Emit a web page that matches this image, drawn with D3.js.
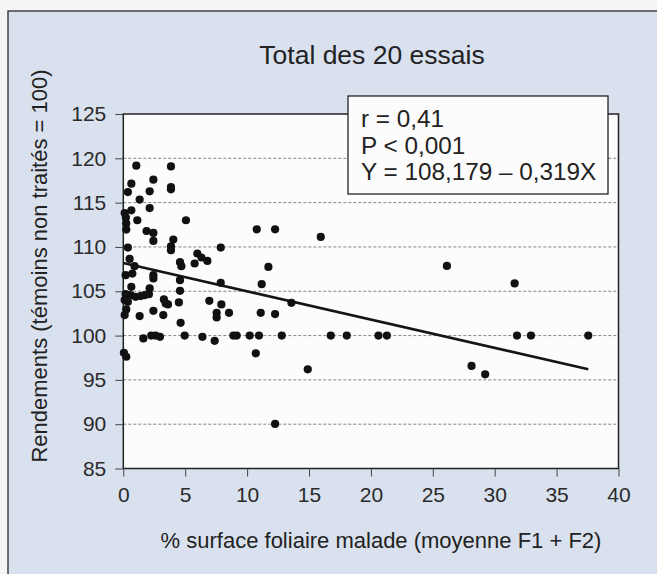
<!DOCTYPE html>
<html>
<head>
<meta charset="utf-8">
<script src="https://cdn.jsdelivr.net/npm/d3@7/dist/d3.min.js"></script>
<style>
  body { margin: 0; background: #f3f4f6; }
  svg { display: block; font-family: "Liberation Sans", Arial, sans-serif; }
</style>
</head>
<body>
<svg id="chart" width="657" height="574"></svg>
<script>
// % surface foliaire malade (moyenne F1 + F2)
var diseaseX = [1.05, 3.85, 0.65, 2.43, 0.37, 2.13, 3.85, 3.85, 1.32, 2.13, 0.65, 0.11, 0.21, 1.13, 5.06, 0.24, 0.24, 1.88, 2.43, 2.43,
  4.04, 3.85, 3.85, 0.37, 7.87, 4.58, 4.69, 5.98, 6.31, 6.79, 5.76, 0.51, 0.91, 0.19, 0.73, 2.43,
  2.43, 4.58, 4.58, 7.87, 0.65, 2.13, 0.19, 0.59, 0.99, 1.40, 1.72, 2.07, 0.11, 0.37, 0.24, 0.11, 3.28, 3.42, 3.61, 4.49,
  6.95, 7.92, 1.32, 2.43, 3.23, 7.54, 7.54, 8.54, 4.63, 1.62, 2.26, 2.61, 2.96, 4.96, 6.39, 7.38, 8.89, 9.16, 0.05, 0.24,
  10.78, 12.26, 15.95, 11.72, 11.18, 11.10, 12.26, 13.58, 10.21, 10.96, 12.80, 16.76, 18.05, 20.61, 21.29, 10.70, 14.90, 12.26,
  26.14, 31.61, 31.80, 32.93, 37.56, 28.13, 29.23];

// Rendements (témoins non traités = 100)
var yieldY = [119.17, 119.09, 117.14, 117.59, 116.19, 116.27, 116.76, 116.50, 115.34, 114.39, 114.13, 113.83, 113.31, 113.01, 113.01, 112.64, 111.96, 111.80, 111.58, 110.68,
  110.83, 110.08, 109.63, 109.93, 109.93, 108.28, 107.83, 109.26, 108.81, 108.42, 108.13, 108.65, 107.83, 106.81, 107.00, 106.81,
  106.44, 106.25, 105.05, 105.95, 105.50, 105.32, 104.67, 104.56, 104.37, 104.45, 104.56, 104.67, 104.00, 103.81, 102.95, 102.31, 104.08, 103.63, 103.51, 103.74,
  103.92, 103.51, 102.20, 102.79, 102.31, 102.57, 102.05, 102.57, 101.44, 99.68, 100, 100, 99.86, 100, 99.86, 99.41, 100, 100, 98.06, 97.61,
  111.99, 111.99, 111.13, 107.75, 105.80, 102.57, 102.42, 103.69, 100, 100, 100, 100, 100, 100, 100, 98.00, 96.19, 90.03,
  107.86, 105.88, 100, 100, 100, 96.57, 95.63];

var xTicks = [0, 5, 10, 15, 20, 25, 30, 35, 40];
var yTicks = [85, 90, 95, 100, 105, 110, 115, 120, 125];
var gridTicks = [90, 95, 100, 105, 110, 115, 120];

var fitIntercept = 108.179, fitSlope = -0.319;
var statsLines = ["r = 0,41", "P < 0,001", "Y = 108,179 \u2013 0,319X"];
var chartTitle = "Total des 20 essais";
var xTitle = "% surface foliaire malade (moyenne F1 + F2)";
var yTitle = "Rendements (témoins non traités = 100)";

var svg = d3.select("#chart");
var plotLeft = 123.3, plotRight = 618.5, plotTop = 114, plotBottom = 468.5;

var x = d3.scaleLinear().domain([0, 40]).range([plotLeft, plotRight]);
var y = d3.scaleLinear().domain([85, 125]).range([plotBottom, plotTop]);

// outer panel
svg.append("rect")
    .attr("x", 8).attr("y", 11).attr("width", 700).attr("height", 600)
    .attr("fill", "#d9e1ee").attr("stroke", "#2a2a2a").attr("stroke-width", 1.3);

// plot area
svg.append("rect")
    .attr("x", plotLeft).attr("y", plotTop).attr("width", plotRight - plotLeft).attr("height", plotBottom - plotTop)
    .attr("fill", "#fcfcfc");

svg.append("g").selectAll("line")
    .data(gridTicks)
    .enter().append("line")
    .attr("x1", plotLeft).attr("x2", plotRight)
    .attr("y1", function(d) { return y(d); }).attr("y2", function(d) { return y(d); })
    .attr("stroke", "#777").attr("stroke-width", 0.9).attr("stroke-dasharray", "3,2");

svg.append("rect")
    .attr("x", plotLeft).attr("y", plotTop).attr("width", plotRight - plotLeft).attr("height", plotBottom - plotTop)
    .attr("fill", "none").attr("stroke", "#222").attr("stroke-width", 1.5);

var xAxis = svg.append("g")
    .attr("transform", "translate(0," + plotBottom + ")")
    .call(d3.axisBottom(x).tickValues(xTicks).tickSize(8).tickPadding(11));
var yAxis = svg.append("g")
    .attr("transform", "translate(" + plotLeft + ",0)")
    .call(d3.axisLeft(y).tickValues(yTicks).tickSize(8).tickPadding(9));

[xAxis, yAxis].forEach(function(a) {
  a.select(".domain").remove();
  a.selectAll(".tick line").attr("stroke", "#444").attr("stroke-width", 1);
  a.selectAll(".tick text").attr("fill", "#2a2a2a").style("font-size", "21px")
      .style("font-family", "'Liberation Sans', Arial, sans-serif");
});

// regression line
var fitLine = d3.line()
    .x(function(d) { return x(d); })
    .y(function(d) { return y(fitIntercept + fitSlope * d); });
svg.append("path")
    .datum([0, d3.max(diseaseX)])
    .attr("d", fitLine)
    .attr("fill", "none").attr("stroke", "#151515").attr("stroke-width", 2.6);

svg.append("g").selectAll("circle")
    .data(diseaseX.map(function(d, i) { return [d, yieldY[i]]; }))
    .enter().append("circle")
    .attr("cx", function(d) { return x(d[0]); })
    .attr("cy", function(d) { return y(d[1]); })
    .attr("r", 4.1)
    .attr("fill", "#111");

// stats box
svg.append("rect")
    .attr("x", 348).attr("y", 96).attr("width", 260).attr("height", 98)
    .attr("fill", "#fcfcfc").attr("stroke", "#222").attr("stroke-width", 1.3);
svg.append("g").selectAll("text")
    .data(statsLines)
    .enter().append("text")
    .attr("x", 361)
    .attr("y", function(d, i) { return 127 + i * 26.6; })
    .attr("fill", "#222")
    .style("font-size", "24.3px")
    .text(function(d) { return d; });

svg.append("text")
    .attr("x", 372).attr("y", 64)
    .attr("text-anchor", "middle").attr("fill", "#222")
    .style("font-size", "26.5px")
    .text(chartTitle);

svg.append("text")
    .attr("x", 381).attr("y", 548)
    .attr("text-anchor", "middle").attr("fill", "#222")
    .style("font-size", "22px")
    .text(xTitle);

svg.append("text")
    .attr("transform", "translate(47,266) rotate(-90)")
    .attr("text-anchor", "middle").attr("fill", "#222")
    .style("font-size", "22px")
    .text(yTitle);
</script>
</body>
</html>
